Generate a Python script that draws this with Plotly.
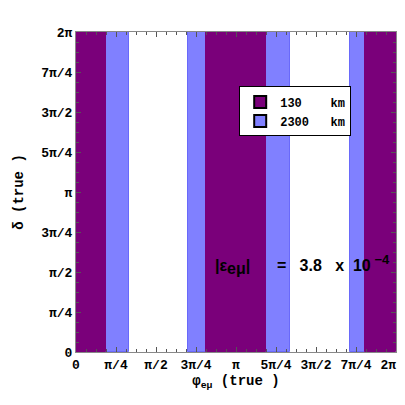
import math
import plotly.graph_objects as go

PI = math.pi

# band edges in units of pi (x = phi_emu true)
band130_lo = [0.0, 0.8125, 1.805]
band130_hi = [0.1875, 1.1875, 2.0]
band2300_lo = [0.1875, 0.702, 1.1875, 1.7125]
band2300_hi = [0.331, 0.8125, 1.3375, 1.805]
delta_max = 2.0  # bands span full delta range (units of pi)

tick_vals = [0, 0.25, 0.5, 0.75, 1.0, 1.25, 1.5, 1.75, 2.0]
tick_text = ["0", "π/4", "π/2", "3π/4", "π", "5π/4", "3π/2", "7π/4", "2π"]

legend_names = ["130\u00a0\u00a0\u00a0\u00a0km", "2300\u00a0\u00a0\u00a0km"]
col130 = "rgb(122,0,122)"
col2300 = "rgb(128,128,255)"

def bars(lo, hi, color, edge):
    xs = [(a + b) / 2 * PI for a, b in zip(lo, hi)]
    ws = [(b - a) * PI for a, b in zip(lo, hi)]
    return go.Bar(
        x=xs, y=[delta_max * PI] * len(xs), base=[0] * len(xs), width=ws,
        marker=dict(color=color, line=dict(color=edge, width=1)),
        showlegend=False, hoverinfo="skip",
    )

fig = go.Figure()
fig.add_trace(bars(band2300_lo, band2300_hi, col2300, "rgb(105,105,250)"))
fig.add_trace(bars(band130_lo, band130_hi, col130, col130))

for name, col in zip(legend_names, [col130, col2300]):
    fig.add_trace(go.Scatter(
        x=[None], y=[None], mode="markers", name=name,
        marker=dict(symbol="square", size=12, color=col, line=dict(color="black", width=2)),
    ))

tickfont = dict(family="Liberation Mono", size=13, color="black", weight="bold")
minor = dict(ticklen=3, tickcolor="#555", dtick=PI / 16, ticks="inside")

x_ticktext = tick_text[:-1] + [tick_text[-1] + "\u00a0\u00a0"]

fig.update_xaxes(
    range=[0, 2 * PI], tickvals=[v * PI for v in tick_vals], ticktext=x_ticktext,
    ticks="inside", ticklen=5, tickcolor="#555", minor=minor,
    showline=True, linecolor="#888", linewidth=1, mirror="ticks",
    showgrid=False, zeroline=False, tickfont=tickfont, automargin=False,
    ticklabeloverflow="allow",
    title=dict(text="φ<sub>eμ</sub> (true )",
               font=dict(family="Liberation Mono", size=14, color="black", weight="bold"),
               standoff=3),
)
fig.update_yaxes(
    range=[0, 2 * PI], tickvals=[v * PI for v in tick_vals], ticktext=tick_text,
    ticks="inside", ticklen=5, tickcolor="#555", minor=minor,
    showline=True, linecolor="#888", linewidth=1, mirror="ticks",
    showgrid=False, zeroline=False, tickfont=tickfont, automargin=False,
    title=dict(text="δ (true )",
               font=dict(family="Liberation Mono", size=14, color="black", weight="bold"),
               standoff=14),
)

nb = "\u00a0"
fig.add_annotation(
    x=0.856 * PI, y=0.55 * PI, xref="x", yref="y", showarrow=False, xanchor="left",
    text=("|ε<sub><span style='font-size:16px'>eμ</span></sub>|" + nb * 6 + "=" + nb * 3 +
          "3.8" + nb * 3 + "x" + nb * 2 + "10" +
          "<sup><span style='font-size:13px'>" + nb + "−4</span></sup>"),
    font=dict(family="Liberation Sans", size=16, color="black", weight="bold"),
)

fig.update_layout(
    width=397, height=385,
    margin=dict(l=68, r=9, t=24, b=41, autoexpand=False),
    paper_bgcolor="white", plot_bgcolor="white",
    barmode="overlay", bargap=0,
    legend=dict(x=0.51, y=0.83, xanchor="left", yanchor="top",
                bordercolor="black", borderwidth=1, bgcolor="white",
                font=dict(family="Liberation Mono", size=12, color="black", weight="bold"),
                tracegroupgap=0, itemwidth=30),
    showlegend=True,
)

fig.write_html("out.html")
